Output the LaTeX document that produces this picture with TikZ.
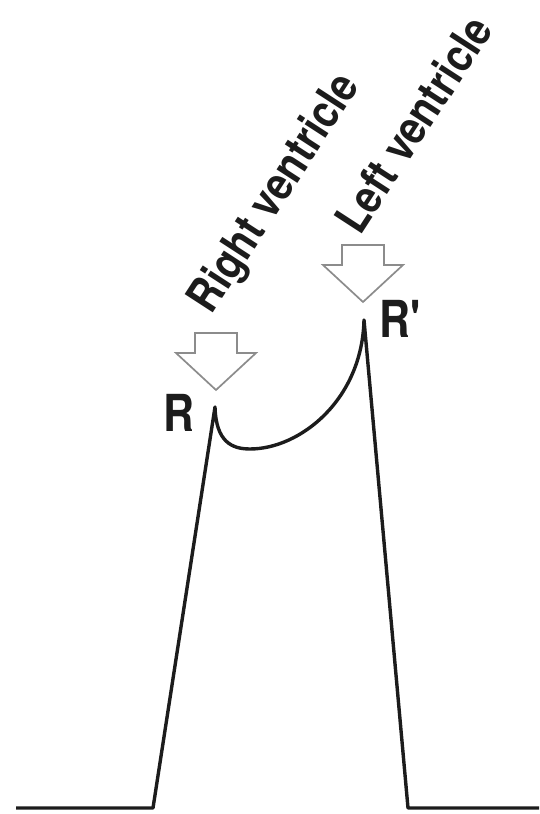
\documentclass[tikz,border=0pt]{standalone}
\usepackage{fontspec}
\usepackage{tikz}
\newfontfamily\heros{TeX Gyre Heros}
\definecolor{traceInk}{RGB}{28,28,28}
\definecolor{arrowGray}{RGB}{140,140,140}

\begin{document}
\begin{tikzpicture}[
  x=1pt, y=1pt,
  every node/.style={inner sep=0pt, text=traceInk},
  trace/.style={
    draw=traceInk,
    line width=3.4pt,
    line join=round
  },
  peaklabel/.style={
    font=\heros\bfseries\fontsize{51}{51}\selectfont,
    xscale=0.84
  },
  chamber/.style={
    font=\heros\bfseries\fontsize{46}{46}\selectfont,
    rotate=57,
    xscale=0.86
  },
  hollow/.style={draw=arrowGray, line width=1.7pt, fill=white, line join=miter},
  pics/downarrow/.style={code={
    \draw[hollow] (0,0) -- (-40,37) -- (-21,37) -- (-21,57)
      -- (21,57) -- (21,37) -- (40,37) -- cycle;
  }}
]
  \useasboundingbox (0,0) rectangle (539,814);

  % QRS trace with the two R peaks
  \coordinate (base0) at (16,6);
  \coordinate (footL) at (153,6);
  \coordinate (peakR) at (215,407);
  \coordinate (trough) at (250,365);
  \coordinate (peakRp) at (364,494);
  \coordinate (footR) at (408,6);
  \coordinate (base1) at (539,6);
  \draw[trace] (base0) -- (footL) -- (peakR)
    .. controls (216,372) and (232,365) .. (trough)
    .. controls (300,365) and (362,414) .. (peakRp)
    -- (footR) -- (base1);

  % hollow arrows onto the peaks
  \pic at (216,424) {downarrow};
  \pic at (363,512) {downarrow};

  \node[peaklabel, anchor=base east] (r) at (195,382) {R};
  \node[peaklabel, anchor=base west] (rp) at (379,476) {R\textquotesingle};

  \node[chamber] (rv) at (276,620) {Right ventricle};
  \node[chamber] (lv) at (413,690) {Left ventricle};
\end{tikzpicture}
\end{document}
